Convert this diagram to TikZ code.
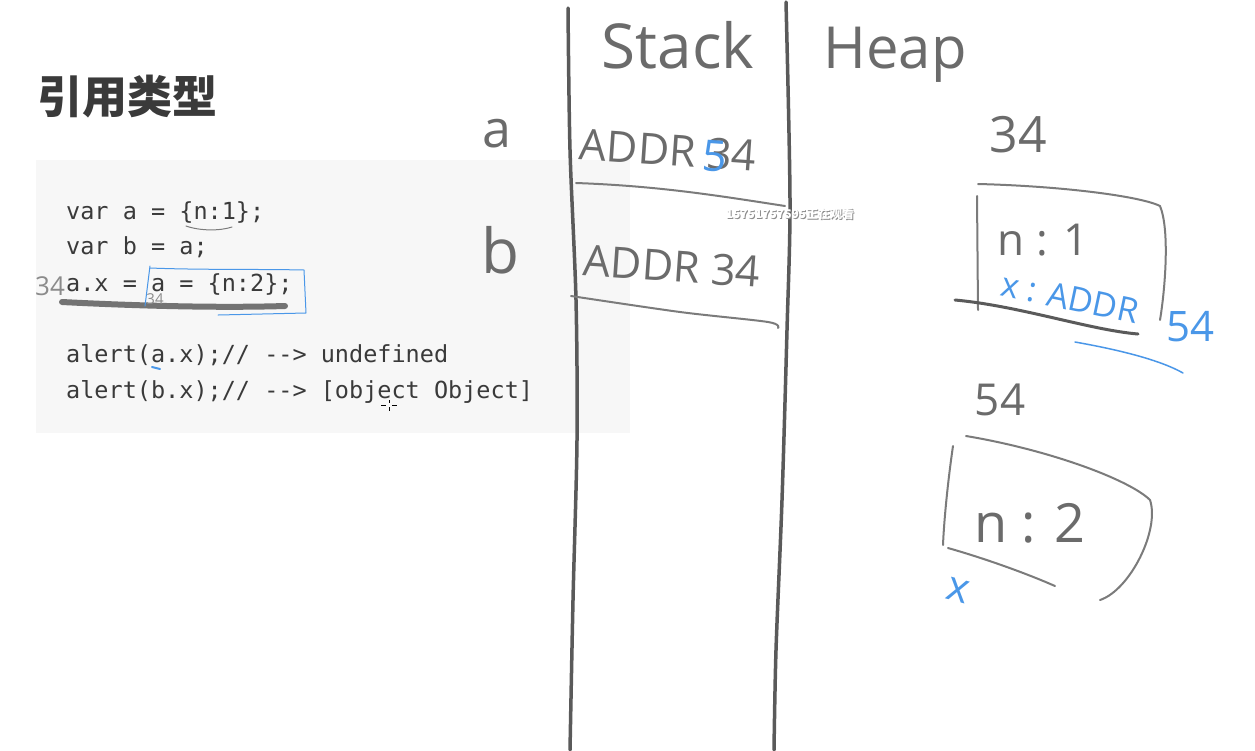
\documentclass[tikz,border=0pt]{standalone}
\usepackage{fontspec}
\setmonofont{DejaVu Sans Mono}
\newfontfamily\cjk{Noto Sans CJK SC}
\newfontfamily\hand{Open Sans}
\definecolor{codebg}{HTML}{F7F7F7}
\definecolor{codefg}{HTML}{3A3A3A}
\definecolor{penc}{HTML}{5A5A5A}
\definecolor{inkblue}{HTML}{4A97E8}
\tikzset{
  pen/.style={draw=penc, line width=3.5pt, line cap=round, line join=round},
  thinpen/.style={draw=penc!80, line width=2pt, line cap=round, line join=round},
  bluepen/.style={draw=inkblue, line width=1.8pt, line cap=round, line join=round},
  code/.style={anchor=base west, inner sep=0pt, text=codefg, font=\ttfamily\fontsize{23.5}{28}\selectfont},
  hw/.style={inner sep=0pt, text=penc!90, font=\hand\fontsize{#1}{#1}\selectfont},
  hwb/.style={inner sep=0pt, text=inkblue, font=\hand\fontsize{#1}{#1}\selectfont},
}
\begin{document}
\begin{tikzpicture}[x=1pt,y=-1pt]
\useasboundingbox (0,0) rectangle (1255,750);
\fill[white] (0,0) rectangle (1255,750);
% code panel
\fill[codebg] (36,160) rectangle (630,433);
% title
\node[anchor=west, inner sep=0pt, text=codefg, font=\cjk\bfseries\fontsize{45}{48}\selectfont] (title) at (37,97) {引用类型};
% code lines
\node[code] (l1) at (66,219) {var a = \{n:1\};};
\node[code] (l2) at (66,254) {var b = a;};
\node[code] (l3) at (66,291) {a.x = a = \{n:2\};};
\node[code] (l4) at (66,362) {alert(a.x);// --> undefined};
\node[code] (l5) at (66,398) {alert(b.x);// --> [object Object]};
% annotations on code
\draw[thinpen, line width=1pt] (186,226) .. controls (200,231) and (220,231) .. (232,227);
\draw[pen, line width=6pt, draw=penc!85] (62,302) .. controls (140,306) and (220,308) .. (285,306);
\draw[bluepen, line width=1pt] (150,266) -- (145,306);
\draw[bluepen, line width=1pt] (150,268) .. controls (200,270) and (260,269) .. (304,270) -- (306,313) -- (218,315);
\node[hw=26, text=penc!70] (s34a) at (50,286) {34};
\node[hw=15, text=penc!70] (s34b) at (155,299) {34};
\draw[bluepen, line width=2pt] (152,367) -- (160,369);
% cursor
\draw[black, line width=0.8pt] (381,405) -- (386,405) (392,405) -- (397,405) (389,400) -- (389,403) (389,407) -- (389,411);
% stack columns
\draw[pen] plot[smooth] coordinates {(568,8) (570,150) (576,300) (577,440) (573,600) (570,750)};
\draw[pen] plot[smooth] coordinates {(786,2) (790,200) (787,330) (782,500) (776,650) (774,750)};
\draw[thinpen] (576,183) .. controls (660,186) and (720,196) .. (785,206);
\draw[thinpen] plot[smooth] coordinates {(571,296) (680,312) (768,322) (778,328)};
% stack texts
\node[hw=62] (stack) at (678,45) {Stack};
\node[hw=58] (heap) at (895,55) {Heap};
\node[hw=52] (va) at (497,134) {a};
\node[hw=62] (vb) at (500,250) {b};
\node[hw=43, rotate=-4] (addr1) at (668,150) {ADDR 34};
\node[hwb=43, rotate=-4] (five1) at (715,156) {5};
\node[hw=43, rotate=-4] (addr2) at (672,266) {ADDR 34};
% heap object 1
\node[hw=50] (h34) at (1018,135) {34};
\draw[thinpen] (978,184) .. controls (1060,186) and (1140,196) .. (1160,206) .. controls (1170,230) and (1165,290) .. (1160,320);
\draw[thinpen] (977,196) -- (978,310);
\draw[pen, line width=3pt] (955,300) .. controls (1020,306) and (1090,330) .. (1138,334);
\node[hw=44] (n1) at (1043,240) {n : 1};
\node[hwb=34, rotate=-12] (xaddr) at (1070,298) {x : ADDR};
\node[hwb=42] (b54) at (1190,327) {54};
\draw[bluepen, line width=1.5pt] (1075,342) .. controls (1120,350) and (1160,360) .. (1183,373);
% heap object 2
\node[hw=44] (h54) at (1000,400) {54};
\draw[thinpen] (966,436) .. controls (1050,450) and (1130,480) .. (1150,500) .. controls (1160,530) and (1130,590) .. (1100,600);
\draw[thinpen] (953,446) .. controls (948,480) and (944,520) .. (943,545);
\draw[thinpen] (948,548) .. controls (990,560) and (1030,575) .. (1055,586);
\node[hw=54] (n2) at (1030,523) {n : 2};
\node[hwb=42, rotate=-15] (bx) at (958,590) {x};
% watermark
\node[inner sep=0pt, text=black!45, font=\cjk\bfseries\fontsize{12}{12}\selectfont] (wmshadow) at (791,215) {15751757595正在观看};
\node[inner sep=0pt, text=white, font=\cjk\bfseries\fontsize{12}{12}\selectfont] (wm) at (790,214) {15751757595正在观看};
\end{tikzpicture}
\end{document}
